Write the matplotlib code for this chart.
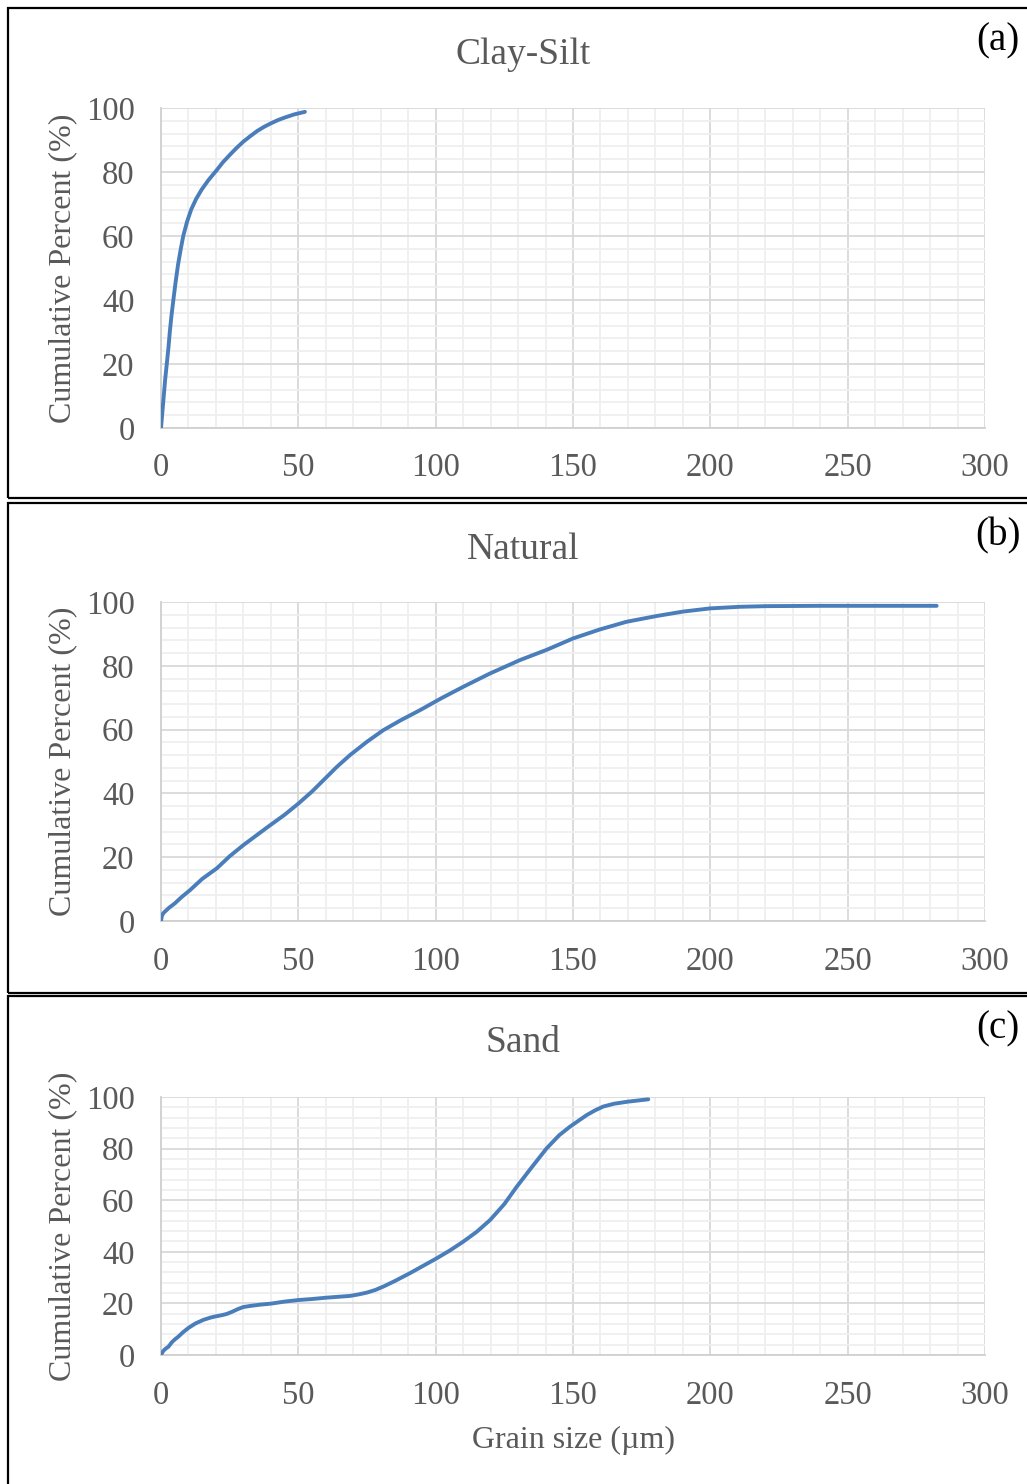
import matplotlib
matplotlib.use("Agg")
import matplotlib.pyplot as plt
from matplotlib.patches import Rectangle
from matplotlib.ticker import MultipleLocator

plt.rcParams["font.family"] = ["Liberation Serif", "DejaVu Serif"]

# grain size (um) vs cumulative percent
clay_x = [0, 0.5, 1, 1.5, 2.1, 2.7, 3.2, 3.8, 4.5, 5.3, 6.2, 7.1, 8.1, 9.5, 11,
          12.8, 14.8, 17.3, 20.3, 22.5, 25, 27.5, 30, 32.5, 35, 37.5, 40, 42.5,
          45, 48.5, 52.4]
clay_y = [0, 5, 10, 15, 20, 25, 30, 35, 40, 45.5, 51, 55.5, 60, 64.5, 68.3,
          71.6, 74.5, 77.5, 80.6, 83, 85.3, 87.5, 89.5, 91.2, 92.8, 94.1, 95.2,
          96.2, 97.0, 98.0, 98.8]

natural_x = [0, 0.3, 0.8, 1.5, 3, 5, 7.5, 10.6, 15, 20.3, 25, 30, 35, 39.7, 45,
             50, 55, 59.1, 64, 68.8, 75, 80.9, 87, 94.3, 102, 110, 119.8, 130.7,
             140.4, 150.1, 159.8, 169.5, 180.4, 190.1, 200, 210.8, 220.5, 240,
             260, 282.4]
natural_y = [0, 1.5, 2.4, 3, 4.2, 5.5, 7.5, 9.7, 13.2, 16.5, 20.3, 23.8, 27, 30,
             33.3, 36.8, 40.6, 44.1, 48.3, 52, 56.2, 59.8, 62.8, 66.1, 69.8,
             73.4, 77.6, 81.8, 85, 88.6, 91.4, 93.8, 95.6, 97, 98, 98.5, 98.7,
             98.8, 98.8, 98.8]

sand_x = [0, 0.6, 1.2, 2, 2.7, 4, 5, 6.3, 8, 10, 12.5, 15.4, 18, 20, 22, 23.9,
          26, 28, 30, 32.4, 36, 40, 45, 50, 55, 60, 65, 68.8, 72, 75, 78, 80.9,
          85, 90.6, 95, 100.4, 105, 110, 115, 119.8, 125, 129.5, 135, 140.4,
          145, 148.9, 152, 155, 158, 161, 165, 170, 177.4]
sand_y = [0, 1.2, 2, 2.7, 3.2, 5, 6, 7.1, 8.8, 10.5, 12.2, 13.6, 14.5, 15, 15.4,
          15.9, 16.8, 17.8, 18.6, 19, 19.5, 19.9, 20.7, 21.3, 21.7, 22.2, 22.6,
          22.9, 23.5, 24.2, 25.2, 26.5, 28.6, 31.7, 34.3, 37.5, 40.4, 43.9,
          47.8, 52.3, 58.5, 65.2, 72.8, 80.1, 85.2, 88.5, 90.8, 93, 94.8, 96.3,
          97.4, 98.2, 99.1]

titles = ["Clay-Silt", "Natural", "Sand"]
tags = ["(a)", "(b)", "(c)"]
xticks = [0, 50, 100, 150, 200, 250, 300]
yticks = [0, 20, 40, 60, 80, 100]

W, H = 1027, 1484
fig = plt.figure(figsize=(W / 100, H / 100), dpi=100)

# panel frames in pixels: (left, top, right, bottom)
frames = [(8, 8, 1030, 498), (8, 503, 1030, 993), (8, 996, 1030, 1490)]
# axes boxes in pixels: (left, top, right, bottom)
boxes = [(161, 108, 985, 428), (161, 602, 985, 921), (161, 1097, 985, 1355)]
series = [(clay_x, clay_y), (natural_x, natural_y), (sand_x, sand_y)]

txt = "#595959"

for i in range(3):
    fl, ft, fr, fb = frames[i]
    fig.patches.append(Rectangle((fl / W, 1 - fb / H), (fr - fl) / W, (fb - ft) / H,
                                 transform=fig.transFigure, fill=False,
                                 edgecolor="black", linewidth=1.6))
    l, t, r, b = boxes[i]
    ax = fig.add_axes([l / W, 1 - b / H, (r - l) / W, (b - t) / H])
    x, y = series[i]
    ax.plot(x, y, color="#4a7ebb", linewidth=2.8, solid_capstyle="round",
            solid_joinstyle="round", zorder=3)
    ax.set_xlim(0, 300)
    ax.set_ylim(0, 100)
    ax.set_xticks(xticks)
    ax.set_yticks(yticks)
    ax.xaxis.set_minor_locator(MultipleLocator(10))
    ax.yaxis.set_minor_locator(MultipleLocator(4))
    ax.grid(which="major", color="#d9d9d9", linewidth=1.3)
    ax.grid(which="minor", color="#efefef", linewidth=1.3)
    ax.set_axisbelow(True)
    for s in ["top", "right"]:
        ax.spines[s].set_visible(False)
    for s in ["left", "bottom"]:
        ax.spines[s].set_color("#d0d0d0")
        ax.spines[s].set_linewidth(1.3)
    ax.tick_params(which="both", length=0, labelsize=23.5, labelcolor=txt)
    ax.tick_params(axis="x", pad=18)
    ax.tick_params(axis="y", pad=19)
    ax.set_ylabel("Cumulative Percent (%)", fontsize=23, color=txt)
    ax.yaxis.set_label_coords(-0.102, 0.5)
    fig.text(523 / W, 1 - (ft + 47) / H, titles[i], fontsize=27, color=txt,
             ha="center", va="center")
    fig.text(998 / W, 1 - (ft + 33) / H, tags[i], fontsize=28, color="black",
             ha="center", va="center")
    if i == 2:
        ax.set_xlabel("Grain size (\u00b5m)", fontsize=23, color=txt, labelpad=11)

fig.savefig("out.png", dpi=100)
